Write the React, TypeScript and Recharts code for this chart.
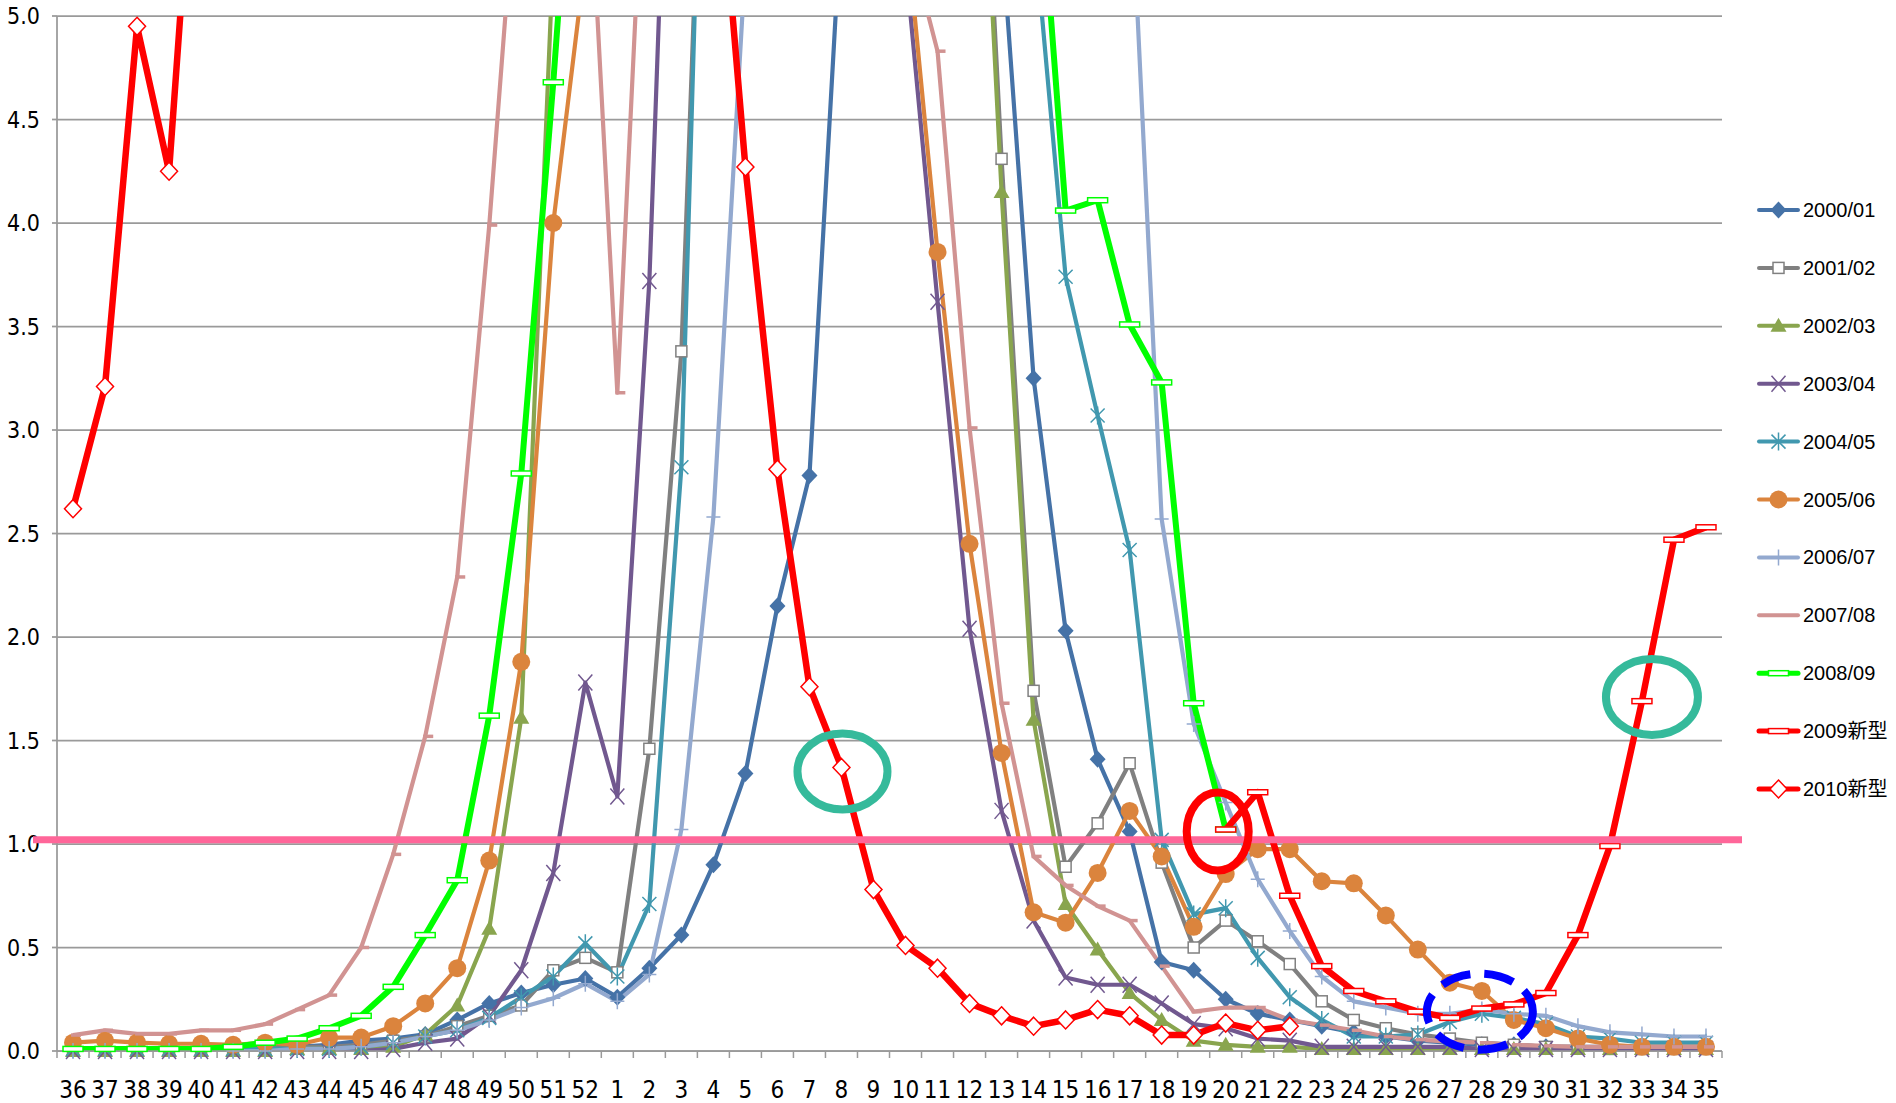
import React from "react";
import { LineChart, Line, XAxis, YAxis, CartesianGrid, Legend, ReferenceLine, ReferenceDot } from "recharts";

// week numbers of the season, 36 .. 52 then 1 .. 35
const weeks = [
  "36", "37", "38", "39", "40", "41", "42", "43", "44", "45", "46", "47", "48", "49", "50", "51", "52",
  "1", "2", "3", "4", "5", "6", "7", "8", "9", "10", "11", "12", "13", "14", "15", "16", "17", "18",
  "19", "20", "21", "22", "23", "24", "25", "26", "27", "28", "29", "30", "31", "32", "33", "34", "35",
];
const yTicks = [0, 0.5, 1, 1.5, 2, 2.5, 3, 3.5, 4, 4.5, 5];

// values per week (same order as weeks); peaks above 5.0 are off the chart
const d2000_01 = [
  0.01, 0.01, 0.01, 0.01, 0.01, 0.01, 0.02, 0.02, 0.03, 0.05, 0.06, 0.08, 0.15, 0.23, 0.28, 0.32, 0.35,
  0.26, 0.4, 0.56, 0.9, 1.34, 2.15, 2.78, 5.5, 7.0, 7.8, 7.5, 6.4, 5.4, 3.25, 2.03, 1.41, 1.06, 0.43,
  0.39, 0.25, 0.18, 0.15, 0.12, 0.09, 0.07, 0.05, 0.04, 0.03, 0.03, 0.02, 0.02, 0.02, 0.02, 0.02, 0.02,
];
const d2001_02 = [
  0.01, 0.01, 0.01, 0.01, 0.01, 0.01, 0.01, 0.02, 0.02, 0.03, 0.05, 0.07, 0.12, 0.17, 0.22, 0.39, 0.45,
  0.38, 1.46, 3.38, 7.6, 9.5, 10.5, 10.0, 9.5, 9.0, 8.5, 8.0, 7.3, 4.31, 1.74, 0.89, 1.1, 1.39, 0.91,
  0.5, 0.63, 0.53, 0.42, 0.24, 0.15, 0.11, 0.08, 0.06, 0.04, 0.03, 0.02, 0.02, 0.01, 0.01, 0.01, 0.01,
];
const d2002_03 = [
  0, 0, 0, 0, 0, 0, 0, 0.01, 0.01, 0.01, 0.02, 0.08, 0.22, 0.59, 1.61, 5.3, 7.5,
  8.5, 9.5, 10, 10, 9.5, 9, 8.5, 8.2, 8, 7.8, 7.5, 7.2, 4.15, 1.6, 0.71, 0.49, 0.28, 0.15,
  0.05, 0.03, 0.02, 0.02, 0.01, 0.01, 0.01, 0.01, 0.01, 0.01, 0.01, 0.01, 0.01, 0.01, 0.01, 0.01, 0.01,
];
const d2003_04 = [
  0, 0, 0, 0, 0, 0, 0, 0, 0, 0, 0.01, 0.04, 0.06, 0.17, 0.39, 0.86, 1.78,
  1.23, 3.72, 8.0, 11, 12, 11, 9.5, 8, 6.5, 5.26, 3.62, 2.04, 1.16, 0.63, 0.355, 0.32, 0.32, 0.23,
  0.13, 0.11, 0.06, 0.05, 0.02, 0.02, 0.02, 0.02, 0.02, 0.01, 0.01, 0.01, 0.01, 0.01, 0.01, 0.01, 0.01,
];
const d2004_05 = [
  0.01, 0.01, 0.01, 0.01, 0.01, 0.01, 0.01, 0.01, 0.01, 0.02, 0.04, 0.07, 0.1, 0.16, 0.26, 0.36, 0.52,
  0.36, 0.71, 2.82, 8.1, 10, 11, 12, 12, 11, 10, 9, 8, 7, 5.45, 3.74, 3.07, 2.42, 1.02,
  0.66, 0.69, 0.45, 0.26, 0.15, 0.07, 0.07, 0.08, 0.14, 0.18, 0.16, 0.13, 0.07, 0.06, 0.04, 0.04, 0.04,
];
const d2005_06 = [
  0.04, 0.05, 0.04, 0.035, 0.035, 0.03, 0.04, 0.03, 0.065, 0.065, 0.12, 0.23, 0.4, 0.92, 1.88, 4.0, 5.27,
  6.5, 8, 10, 11, 11, 10, 9, 8, 6.5, 5.46, 3.86, 2.45, 1.44, 0.67, 0.62, 0.86, 1.16, 0.94,
  0.6, 0.855, 0.975, 0.975, 0.82, 0.81, 0.655, 0.49, 0.33, 0.29, 0.15, 0.11, 0.06, 0.03, 0.02, 0.02, 0.02,
];
const d2006_07 = [
  0, 0, 0, 0, 0, 0, 0, 0.01, 0.01, 0.02, 0.04, 0.07, 0.1, 0.15, 0.21, 0.255, 0.325,
  0.24, 0.37, 1.07, 2.58, 5.26, 8, 10, 11, 12, 12, 11, 10, 9, 8, 7.5, 6.8, 5.8, 2.57,
  1.58, 1.2, 0.83, 0.58, 0.36, 0.24, 0.21, 0.18, 0.18, 0.2, 0.18, 0.17, 0.12, 0.09, 0.08, 0.07, 0.07,
];
const d2007_08 = [
  0.077, 0.1, 0.083, 0.083, 0.1, 0.1, 0.13, 0.2, 0.27, 0.5, 0.95, 1.52, 2.29, 3.99, 6.0, 7.0, 6.1,
  3.18, 6.4, 8, 9, 9, 8.5, 8, 7.5, 6.5, 5.43, 4.83, 3.01, 1.68, 0.94, 0.8, 0.7, 0.63, 0.41,
  0.19, 0.21, 0.21, 0.15, 0.125, 0.1, 0.07, 0.055, 0.045, 0.04, 0.03, 0.025, 0.02, 0.02, 0.02, 0.02, 0.02,
];
const d2008_09 = [
  0.01, 0.01, 0.01, 0.01, 0.01, 0.02, 0.04, 0.06, 0.11, 0.17, 0.31, 0.56, 0.825, 1.62, 2.79, 4.68, 6.8,
  8, 10, 12, 13, 13, 12, 11, 10, 9, 8.5, 8, 7.5, 7, 6.1, 4.06, 4.11, 3.51, 3.23,
  1.68, 1.07, null, null, null, null, null, null, null, null, null, null, null, null, null, null, null,
];
const d2009new = [
  null, null, null, null, null, null, null, null, null, null, null, null, null, null, null, null, null,
  null, null, null, null, null, null, null, null, null, null, null, null, null, null, null, null, null, null,
  null, 1.07, 1.25, 0.75, 0.41, 0.29, 0.24, 0.19, 0.16, 0.205, 0.225, 0.28, 0.56, 0.99, 1.69, 2.47, 2.53,
];
const d2010new = [
  2.62, 3.21, 4.95, 4.25, 6.4, 12.9, 17.7, 24.6, 33.3, 38.9, 39.6, 31.8, 25.9, 17.2, 12.7, 10.0, 8.5,
  7.5, 7.0, 6.6, 6.1, 4.27, 2.81, 1.76, 1.37, 0.78, 0.51, 0.4, 0.23, 0.17, 0.12, 0.15, 0.2, 0.17, 0.077,
  0.077, 0.135, 0.1, 0.12, null, null, null, null, null, null, null, null, null, null, null, null, null,
];

type Kind = "diamond" | "square" | "triangle" | "cross" | "star" | "circle" | "plus" | "dash" | "bar" | "odiamond";

const series: { key: string; name: string; data: (number | null)[]; color: string; width: number; marker: Kind }[] = [
  { key: "a", name: "2000/01", data: d2000_01, color: "#4572A7", width: 4.2, marker: "diamond" },
  { key: "b", name: "2001/02", data: d2001_02, color: "#808080", width: 4.2, marker: "square" },
  { key: "c", name: "2002/03", data: d2002_03, color: "#89A54E", width: 4.2, marker: "triangle" },
  { key: "d", name: "2003/04", data: d2003_04, color: "#71588F", width: 4.2, marker: "cross" },
  { key: "e", name: "2004/05", data: d2004_05, color: "#4198AF", width: 4.2, marker: "star" },
  { key: "f", name: "2005/06", data: d2005_06, color: "#DB843D", width: 4.2, marker: "circle" },
  { key: "g", name: "2006/07", data: d2006_07, color: "#93A9CF", width: 4.2, marker: "plus" },
  { key: "h", name: "2007/08", data: d2007_08, color: "#D19392", width: 4.2, marker: "dash" },
  { key: "i", name: "2008/09", data: d2008_09, color: "#00FF00", width: 6, marker: "bar" },
  { key: "j", name: "2009新型", data: d2009new, color: "#FF0000", width: 6.5, marker: "bar" },
  { key: "k", name: "2010新型", data: d2010new, color: "#FF0000", width: 6.5, marker: "odiamond" },
];

const chartData = weeks.map((w, i) => {
  const row: Record<string, any> = { week: w };
  series.forEach((s) => (row[s.key] = s.data[i]));
  return row;
});

const GRID = "#9a9a9a";
const NARROW = "'Liberation Sans Narrow', 'Arial Narrow', 'DejaVu Sans Condensed', sans-serif";
const SANS = "'Liberation Sans', Arial, 'Noto Sans CJK JP', sans-serif";
const PLOT_W = 1665;
const HALF_BAND = PLOT_W / 52 / 2;

function Marker({ kind, color, cx, cy }: { kind: Kind; color: string; cx: number; cy: number }) {
  switch (kind) {
    case "diamond":
      return <path d={`M${cx},${cy - 8.5}L${cx + 8},${cy}L${cx},${cy + 8.5}L${cx - 8},${cy}Z`} fill={color} />;
    case "square":
      return <rect x={cx - 5.5} y={cy - 5.5} width={11} height={11} fill="#fff" stroke={color} strokeWidth={1.5} />;
    case "triangle":
      return <path d={`M${cx},${cy - 8}L${cx + 8},${cy + 6}L${cx - 8},${cy + 6}Z`} fill={color} />;
    case "cross":
      return <path d={`M${cx - 7},${cy - 8}L${cx + 7},${cy + 8}M${cx + 7},${cy - 8}L${cx - 7},${cy + 8}`} stroke={color} strokeWidth={1.5} fill="none" />;
    case "star":
      return (
        <path
          d={`M${cx - 7},${cy - 7}L${cx + 7},${cy + 7}M${cx + 7},${cy - 7}L${cx - 7},${cy + 7}M${cx},${cy - 9}L${cx},${cy + 9}`}
          stroke={color}
          strokeWidth={1.5}
          fill="none"
        />
      );
    case "circle":
      return <circle cx={cx} cy={cy} r={9} fill={color} />;
    case "plus":
      return <path d={`M${cx - 7},${cy}L${cx + 7},${cy}M${cx},${cy - 8}L${cx},${cy + 8}`} stroke={color} strokeWidth={1.5} fill="none" />;
    case "dash":
      return <path d={`M${cx - 2},${cy}L${cx + 8},${cy}`} stroke={color} strokeWidth={3.5} fill="none" />;
    case "bar":
      return <rect x={cx - 10} y={cy - 2.5} width={20} height={5} fill="#fff" stroke={color} strokeWidth={1.5} />;
    case "odiamond":
      return <path d={`M${cx},${cy - 9}L${cx + 8.5},${cy}L${cx},${cy + 9}L${cx - 8.5},${cy}Z`} fill="#fff" stroke={color} strokeWidth={1.5} />;
  }
  return null;
}

function WeekTick(props: any) {
  const { x, y, payload, index } = props;
  return (
    <g>
      <line x1={x - HALF_BAND} x2={x - HALF_BAND} y1={y} y2={y + 7} stroke={GRID} strokeWidth={1.5} />
      {index === weeks.length - 1 && <line x1={x + HALF_BAND} x2={x + HALF_BAND} y1={y} y2={y + 7} stroke={GRID} strokeWidth={1.5} />}
      <text x={x} y={y + 47} textAnchor="middle" fontSize={24} fontFamily={NARROW} fill="#000">
        {payload.value}
      </text>
    </g>
  );
}

function SeasonLegend() {
  return (
    <svg width={141} height={620}>
      {series.map((s, i) => {
        const y = 20 + i * 57.9;
        return (
          <g key={s.key}>
            <line x1={4} x2={43} y1={y} y2={y} stroke={s.color} strokeWidth={s.width > 5 ? 5 : 4} strokeLinecap="round" />
            {s.marker !== "dash" && <Marker kind={s.marker} color={s.color} cx={23.5} cy={y} />}
            <text x={48} y={y + 7} fontSize={20} fontFamily={SANS} fill="#000">
              {s.name}
            </text>
          </g>
        );
      })}
    </svg>
  );
}

const ring = (color: string, rx: number, ry: number, dx: number, dash?: string) => (p: any) =>
  <ellipse cx={p.cx + dx} cy={p.cy} rx={rx} ry={ry} fill="none" stroke={color} strokeWidth={8} strokeDasharray={dash} />;

export default function App() {
  return (
    <div style={{ position: "absolute", left: 0, top: 0, width: 1896, height: 1103, background: "#fff" }}>
      <LineChart width={1896} height={1103} data={chartData} margin={{ top: 16, right: 174, bottom: 0, left: 0 }}>
        <CartesianGrid horizontal vertical={false} stroke={GRID} strokeWidth={1.75} yAxisId="v" />
        <XAxis
          dataKey="week"
          interval={0}
          height={52}
          padding={{ left: HALF_BAND, right: HALF_BAND }}
          tickSize={0}
          tickMargin={0}
          tickLine={false}
          axisLine={{ stroke: GRID, strokeWidth: 1.75 }}
          tick={<WeekTick />}
        />
        <YAxis
          yAxisId="v"
          type="number"
          domain={[0, 5]}
          allowDataOverflow
          ticks={yTicks}
          width={57}
          tickSize={5}
          tickMargin={12}
          tickFormatter={(v: number) => v.toFixed(1)}
          axisLine={{ stroke: GRID, strokeWidth: 1.75 }}
          tickLine={{ stroke: GRID, strokeWidth: 1.75 }}
          tick={{ fontSize: 23, fontFamily: NARROW, fill: "#000" }}
        />
        <YAxis yAxisId="m" orientation="right" type="number" domain={[0, 5]} hide />
        {series.flatMap((s) => [
          <Line
            key={s.key}
            yAxisId="v"
            dataKey={s.key}
            name={s.name}
            stroke={s.color}
            strokeWidth={s.width}
            strokeLinejoin="round"
            dot={false}
            activeDot={false}
            isAnimationActive={false}
          />,
          <Line
            key={s.key + "-m"}
            yAxisId="m"
            dataKey={(row: any) => (row[s.key] == null || row[s.key] > 5 ? null : row[s.key])}
            stroke="none"
            strokeWidth={0}
            legendType="none"
            activeDot={false}
            isAnimationActive={false}
            dot={(p: any) =>
              p.cx == null || p.cy == null || p.value == null ? (
                <g key={`${s.key}-${p.index}`} />
              ) : (
                <g key={`${s.key}-${p.index}`}>
                  <Marker kind={s.marker} color={s.color} cx={p.cx} cy={p.cy} />
                </g>
              )
            }
          />,
        ])}
        <ReferenceLine
          yAxisId="v"
          y={1.02}
          ifOverflow="visible"
          zIndex={2000}
          shape={(p: any) => <line x1={p.x1 - 24} x2={p.x2 + 20} y1={p.y1} y2={p.y2} stroke="#FF6699" strokeWidth={7} />}
        />
        <ReferenceDot yAxisId="v" x="8" y={1.35} ifOverflow="visible" zIndex={2000} shape={ring("#35BA9B", 45, 38, 1)} />
        <ReferenceDot yAxisId="v" x="20" y={1.06} ifOverflow="visible" zIndex={2000} shape={ring("#FF0000", 31, 39, -8)} />
        <ReferenceDot yAxisId="v" x="28" y={0.19} ifOverflow="visible" zIndex={2000} shape={ring("#0000FF", 53, 38, -2, "30 14")} />
        <ReferenceDot yAxisId="v" x="33" y={1.71} ifOverflow="visible" zIndex={2000} shape={ring("#35BA9B", 46, 38, 10)} />
        <Legend
          layout="vertical"
          align="center"
          verticalAlign="middle"
          wrapperStyle={{ left: 1755, top: 190, width: 141, height: 620 }}
          content={() => <SeasonLegend />}
        />
      </LineChart>
    </div>
  );
}
